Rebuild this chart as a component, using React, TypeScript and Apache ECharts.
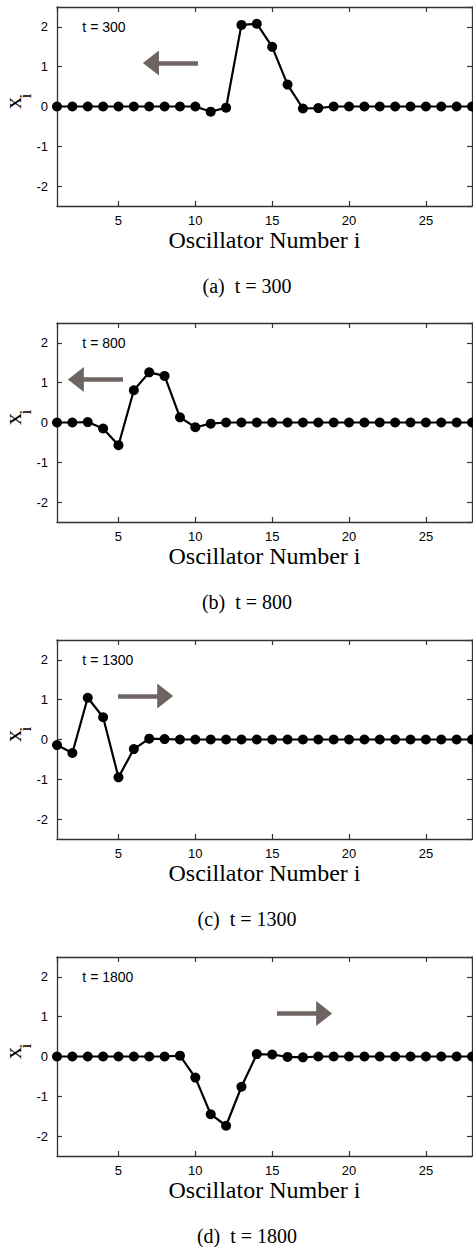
import React, { useEffect, useRef } from "react";
import * as echarts from "echarts";

const oscillators = Array.from({ length: 28 }, (_, k) => k + 1);

const valuesA = [0, 0, 0, 0, 0, 0, 0, 0, 0, 0, -0.13, -0.03, 2.05, 2.08, 1.5, 0.55, -0.05, -0.04, 0, 0, 0, 0, 0, 0, 0, 0, 0, 0];
const valuesB = [0, 0, 0.01, -0.15, -0.57, 0.81, 1.26, 1.17, 0.13, -0.12, -0.03, 0, 0, 0, 0, 0, 0, 0, 0, 0, 0, 0, 0, 0, 0, 0, 0, 0];
const valuesC = [-0.14, -0.34, 1.05, 0.56, -0.95, -0.24, 0.02, 0.01, 0, 0, 0, 0, 0, 0, 0, 0, 0, 0, 0, 0, 0, 0, 0, 0, 0, 0, 0, 0];
const valuesD = [0, 0, 0, 0, 0, 0, 0, 0, 0.02, -0.53, -1.45, -1.74, -0.76, 0.06, 0.05, -0.01, -0.02, 0, 0, 0, 0, 0, 0, 0, 0, 0, 0, 0];

const panelValues = [valuesA, valuesB, valuesC, valuesD];
const panelTimes = ["t = 300", "t = 800", "t = 1300", "t = 1800"];
const captions = ["(a)  t = 300", "(b)  t = 800", "(c)  t = 1300", "(d)  t = 1800"];
// arrows: [tail x, head x, y] in data coordinates
const arrows = [
  [10.17, 7.11, 1.09],
  [5.29, 2.23, 1.08],
  [4.97, 8.04, 1.09],
  [15.31, 18.38, 1.08],
];
const timeLabelPos = [2.65, 2];

const X_MIN = 1;
const X_MAX = 28;
const Y_MIN = -2.5;
const Y_MAX = 2.5;

const gridTops = [7, 323, 640, 957];
const GRID_LEFT = 57;
const GRID_W = 415;
const GRID_H = 199;

const SANS = "'Liberation Sans', Arial, Helvetica, sans-serif";
const SERIF = "'Liberation Serif', 'Times New Roman', serif";
const FRAME = "#333";
const ARROW = "#6e6462";

export default function App() {
  const ref = useRef<HTMLDivElement>(null);
  useEffect(() => {
    if (!ref.current) return;
    const chart = echarts.init(ref.current, undefined, { renderer: "svg" });
    const grid: any[] = [];
    const xAxis: any[] = [];
    const yAxis: any[] = [];
    const series: any[] = [];
    const graphic: any[] = [];
    const axisLine = { show: true, onZero: false, lineStyle: { color: FRAME, width: 1.3 } };
    const axisTick = { show: true, inside: true, length: 5, lineStyle: { color: FRAME, width: 1.2 } };
    panelValues.forEach((vals, k) => {
      grid.push({
        left: GRID_LEFT, top: gridTops[k], width: GRID_W, height: GRID_H,
        containLabel: false, outerBoundsMode: "none",
      });
      xAxis.push({
        type: "value", gridIndex: k, position: "bottom", min: X_MIN, max: X_MAX,
        minInterval: 5, maxInterval: 5,
        axisLine, axisTick, splitLine: { show: false },
        axisLabel: { showMinLabel: false, showMaxLabel: false, fontFamily: SANS, fontSize: 13, color: "#000", margin: 8 },
        name: "Oscillator Number i", nameLocation: "middle", nameGap: 22,
        nameTextStyle: { fontFamily: SERIF, fontSize: 24, color: "#000" },
      });
      xAxis.push({
        type: "value", gridIndex: k, position: "top", min: X_MIN, max: X_MAX,
        minInterval: 5, maxInterval: 5,
        axisLine, axisTick, splitLine: { show: false }, axisLabel: { show: false },
      });
      yAxis.push({
        type: "value", gridIndex: k, position: "left", min: Y_MIN, max: Y_MAX,
        minInterval: 1, maxInterval: 1,
        axisLine, axisTick, splitLine: { show: false },
        axisLabel: {
          showMinLabel: false, showMaxLabel: false, fontFamily: SANS, fontSize: 13, color: "#000", margin: 9,
          formatter: (v: number) => (Number.isInteger(v) ? String(v) : ""),
        },
      });
      yAxis.push({
        type: "value", gridIndex: k, position: "right", min: Y_MIN, max: Y_MAX,
        minInterval: 1, maxInterval: 1,
        axisLine, axisTick, splitLine: { show: false }, axisLabel: { show: false },
      });
      const a = arrows[k];
      series.push({
        type: "line",
        xAxisIndex: 2 * k,
        yAxisIndex: 2 * k,
        data: oscillators.map((i, j) => [i, vals[j]]),
        symbol: "circle",
        symbolSize: 10,
        showAllSymbol: true,
        itemStyle: { color: "#000" },
        lineStyle: { color: "#000", width: 2.2 },
        z: 3,
        markLine: {
          silent: true,
          symbol: ["none", "triangle"],
          symbolSize: [25, 16],
          label: { show: false },
          lineStyle: { color: ARROW, width: 4.5, type: "solid" },
          itemStyle: { color: ARROW },
          emphasis: { disabled: true },
          data: [[{ coord: [a[0], a[2]] }, { coord: [a[1], a[2]] }]],
        },
        markPoint: {
          silent: true,
          symbol: "circle",
          symbolSize: 0,
          label: { show: true, position: "right", distance: 0, formatter: panelTimes[k], fontFamily: SANS, fontSize: 14, color: "#000" },
          data: [{ coord: timeLabelPos }],
        },
      });
      // y-axis title "x_i" (rotated, with subscript)
      graphic.push({
        type: "text",
        x: 13,
        y: gridTops[k] + 96,
        rotation: Math.PI / 2,
        style: { text: "x", fontFamily: SERIF, fontSize: 24, fill: "#000", textAlign: "center", textVerticalAlign: "middle" },
      });
      graphic.push({
        type: "text",
        x: 25,
        y: gridTops[k] + 89,
        rotation: Math.PI / 2,
        style: { text: "i", fontFamily: SERIF, fontSize: 16, fill: "#000", textAlign: "center", textVerticalAlign: "middle" },
      });
      graphic.push({
        type: "text",
        x: 247,
        y: gridTops[k] + 279,
        style: { text: captions[k], fontFamily: SERIF, fontSize: 20, fill: "#000", textAlign: "center", textVerticalAlign: "middle" },
      });
    });
    chart.setOption({
      animation: false,
      backgroundColor: "#fff",
      grid, xAxis, yAxis, series, graphic,
    });
    return () => chart.dispose();
  }, []);
  return (
    <div
      ref={ref}
      style={{ position: "absolute", left: 0, top: 0, width: 473, height: 1247 }}
    />
  );
}
